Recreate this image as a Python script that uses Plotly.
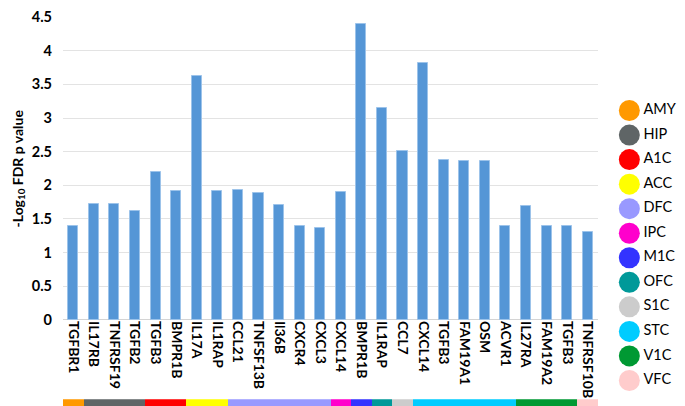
import plotly.graph_objects as go

# ----------------------------------------------------------------------------------------------------------------------
# Data
# ----------------------------------------------------------------------------------------------------------------------
genes = ['TGFBR1', 'IL17RB', 'TNFRSF19', 'TGFB2', 'TGFB3', 'BMPR1B', 'IL17A', 'IL1RAP', 'CCL21', 'TNFSF13B',
         'Il36B', 'CXCR4', 'CXCL3', 'CXCL14', 'BMPR1B', 'IL1RAP', 'CCL7', 'CXCL14', 'TGFB3', 'FAM19A1',
         'OSM', 'ACVR1', 'IL27RA', 'FAM19A2', 'TGFB3', 'TNFRSF10B']
log_fdr = [1.40, 1.72, 1.72, 1.62, 2.20, 1.92, 3.62, 1.91, 1.93, 1.89,
           1.71, 1.39, 1.36, 1.90, 4.39, 3.15, 2.51, 3.82, 2.38, 2.36,
           2.36, 1.39, 1.69, 1.39, 1.39, 1.31]
gene_region = ['AMY', 'HIP', 'HIP', 'HIP', 'A1C', 'A1C', 'ACC', 'ACC', 'DFC', 'DFC',
               'DFC', 'DFC', 'DFC', 'IPC', 'M1C', 'OFC', 'S1C', 'STC', 'STC', 'STC',
               'STC', 'STC', 'V1C', 'V1C', 'V1C', 'VFC']
regions = ['AMY', 'HIP', 'A1C', 'ACC', 'DFC', 'IPC', 'M1C', 'OFC', 'S1C', 'STC', 'V1C', 'VFC']
region_colors = ['#ff9900', '#5f6566', '#ff0000', '#ffff00', '#9999ff', '#ff00cc', '#3333ff', '#009999',
                 '#cccccc', '#00ccff', '#009933', '#ffcccc']
y_ticks = [0, 0.5, 1, 1.5, 2, 2.5, 3, 3.5, 4, 4.5]
y_tick_text = ['0', '0.5', '1', '1.5', '2', '2.5', '3', '3.5', '4', '4.5']

# ----------------------------------------------------------------------------------------------------------------------
# Figure
# ----------------------------------------------------------------------------------------------------------------------
color_map = dict(zip(regions, region_colors))
idx = list(range(len(genes)))
font_name = 'Lato'

fig = go.Figure()

# Main bars
fig.add_trace(go.Bar(x=idx, y=log_fdr, width=0.49,
                     marker_color='#5596d6', marker_line_color='#9cc3ea', marker_line_width=1,
                     xaxis='x', yaxis='y', showlegend=False))

# Region strip under the labels
fig.add_trace(go.Bar(x=idx, y=[1] * len(idx), width=1,
                     marker_color=[color_map[r] for r in gene_region], marker_line_width=0,
                     xaxis='x2', yaxis='y2', showlegend=False))

# Legend drawn as markers + text
fig.add_trace(go.Scatter(x=[0.33] * len(regions), y=list(range(len(regions))),
                         mode='markers+text', text=regions, textposition='middle right',
                         marker=dict(size=21, color=region_colors, symbol='circle', line_width=0),
                         textfont=dict(family=font_name, size=14.5, color='black'),
                         xaxis='x3', yaxis='y3', showlegend=False, cliponaxis=False))

# Y axis title
fig.add_annotation(text='<b>-Log<sub>10</sub> FDR p value</b>', xref='paper', yref='y domain',
                   x=-45 / 630, y=0.5, xanchor='center', yanchor='middle', textangle=-90,
                   showarrow=False, font=dict(size=14))

x_end = 535 / 630
fig.update_layout(
    width=685, height=406,
    margin=dict(l=55, r=0, t=6, b=2),
    plot_bgcolor='white', paper_bgcolor='white',
    font=dict(family=font_name, color='black'),
    bargap=0,
    xaxis=dict(domain=[0, x_end], range=[-0.5, len(idx) - 0.5], tickmode='array', tickvals=idx,
               ticktext=['<b>%s</b>' % g for g in genes], tickangle=90, tickfont=dict(size=14),
               showgrid=False, zeroline=False, showline=False, ticks='', anchor='y'),
    yaxis=dict(domain=[88 / 398, 1], range=[0, 4.5], tickmode='array', tickvals=y_ticks,
               ticktext=['<b>%s</b>' % t for t in y_tick_text], tickfont=dict(size=14.5),
               ticklabeloverflow='allow',
               showgrid=True, gridcolor='#e3e3e3', gridwidth=1, zeroline=True, zerolinecolor='#d4d4d4',
               zerolinewidth=1, ticks='', ticklabelstandoff=10),
    xaxis2=dict(domain=[0, x_end], range=[-0.5, len(idx) - 0.5], anchor='y2', visible=False),
    yaxis2=dict(domain=[0, 7 / 398], range=[0, 1], anchor='x2', visible=False),
    xaxis3=dict(domain=[x_end, 1], range=[0, 1], anchor='y3', visible=False),
    yaxis3=dict(domain=[0, 1], range=[12.04, -3.81], anchor='x3', visible=False),
)

fig.write_html("out.html")
